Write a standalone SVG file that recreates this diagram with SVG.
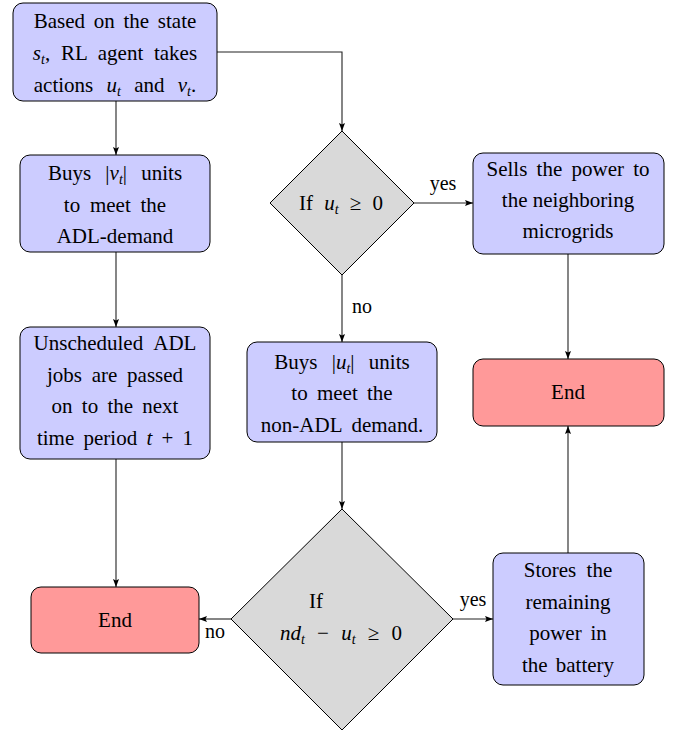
<svg xmlns="http://www.w3.org/2000/svg" width="681" height="733" viewBox="0 0 681 733">
<style>
text{font-family:"Liberation Serif","Times New Roman",serif;font-size:21px;fill:#000;text-anchor:middle}
.lbl{font-size:20px}
.i{font-style:italic}
.s{font-size:14px;font-style:italic}
.blue{fill:#ccccff;stroke:#000;stroke-width:1}
.red{fill:#ff9999;stroke:#000;stroke-width:1}
.dia{fill:#d9d9d9;stroke:#000;stroke-width:1}
.c{fill:none;stroke:#222;stroke-width:1.1;marker-end:url(#ah)}
</style>
<defs>
<marker id="ah" markerUnits="userSpaceOnUse" markerWidth="8" markerHeight="6" refX="8" refY="3" orient="auto">
<path d="M0,0 L8,3 L0,6 L1.5,3 z" fill="#000"/>
</marker>
</defs>
<g id="connectors">
<path class="c" d="M116,101 V155"/>
<path class="c" d="M217,52 H342 V131"/>
<path class="c" d="M414,203 H473"/>
<path class="c" d="M342,275 V342"/>
<path class="c" d="M568,254 V359"/>
<path class="c" d="M116,252 V327"/>
<path class="c" d="M116,459 V587"/>
<path class="c" d="M342,442 V509"/>
<path class="c" d="M231,619 H199"/>
<path class="c" d="M453,619 H493"/>
<path class="c" d="M568,553 V426"/>
<text class="lbl" x="443" y="190">yes</text>
<text class="lbl" x="362" y="313">no</text>
<text class="lbl" x="215" y="638">no</text>
<text class="lbl" x="473" y="606">yes</text>
</g>
<g id="start">
<rect class="blue" x="13" y="3" width="204" height="98" rx="10"/>
<text x="115" y="28" word-spacing="3.5">Based on the state</text>
<text x="115" y="60" word-spacing="5.5"><tspan class="i">s</tspan><tspan class="s" dy="4">t</tspan><tspan dy="-4">, RL agent takes</tspan></text>
<text x="115" y="92" word-spacing="8">actions <tspan class="i">u</tspan><tspan class="s" dy="4">t</tspan><tspan dy="-4"> and </tspan><tspan class="i">v</tspan><tspan class="s" dy="4">t</tspan><tspan dy="-4">.</tspan></text>
</g>
<g id="buy-v">
<rect class="blue" x="20" y="155" width="190" height="97" rx="10"/>
<text x="115" y="180" word-spacing="9">Buys |<tspan class="i">v</tspan><tspan class="s" dy="4">t</tspan><tspan dy="-4">| units</tspan></text>
<text x="115" y="212" word-spacing="4.5">to meet the</text>
<text x="115" y="243">ADL-demand</text>
</g>
<g id="unscheduled">
<rect class="blue" x="20" y="327" width="190" height="132" rx="10"/>
<text x="115" y="350" word-spacing="6">Unscheduled ADL</text>
<text x="115" y="382" word-spacing="4.5">jobs are passed</text>
<text x="115" y="413" word-spacing="4">on to the next</text>
<text x="115" y="445" word-spacing="4">time period <tspan class="i">t</tspan> + 1</text>
</g>
<g id="end-left">
<rect class="red" x="31" y="587" width="168" height="66" rx="10"/>
<text x="115" y="627">End</text>
</g>
<g id="decision-u">
<polygon class="dia" points="342,131 414,203 342,275 270,203"/>
<text x="341" y="210" word-spacing="6">If <tspan class="i">u</tspan><tspan class="s" dy="4">t</tspan><tspan dy="-4"> ≥ 0</tspan></text>
</g>
<g id="sell">
<rect class="blue" x="473" y="153" width="191" height="101" rx="10"/>
<text x="568" y="176" word-spacing="4">Sells the power to</text>
<text x="568" y="207">the neighboring</text>
<text x="568" y="238">microgrids</text>
</g>
<g id="buy-u">
<rect class="blue" x="247" y="342" width="190" height="100" rx="10"/>
<text x="342" y="369" word-spacing="9">Buys |<tspan class="i">u</tspan><tspan class="s" dy="4">t</tspan><tspan dy="-4">| units</tspan></text>
<text x="342" y="400" word-spacing="4">to meet the</text>
<text x="342" y="432" word-spacing="4.5">non-ADL demand.</text>
</g>
<g id="end-right">
<rect class="red" x="473" y="359" width="191" height="67" rx="10"/>
<text x="568" y="399">End</text>
</g>
<g id="decision-nd">
<polygon class="dia" points="342,509 453,619 342,730 231,619"/>
<text x="316" y="608">If</text>
<text x="341" y="640" word-spacing="7"><tspan class="i">nd</tspan><tspan class="s" dy="4">t</tspan><tspan dy="-4"> − </tspan><tspan class="i">u</tspan><tspan class="s" dy="4">t</tspan><tspan dy="-4"> ≥ 0</tspan></text>
</g>
<g id="store">
<rect class="blue" x="493" y="553" width="151" height="132" rx="10"/>
<text x="568" y="577" word-spacing="5">Stores the</text>
<text x="568" y="609">remaining</text>
<text x="568" y="640" word-spacing="3.5">power in</text>
<text x="568" y="672" word-spacing="3">the battery</text>
</g>
</svg>
